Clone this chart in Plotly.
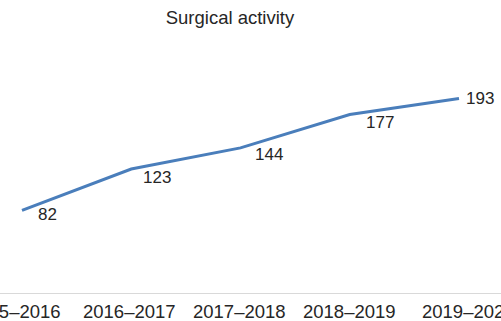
import plotly.graph_objects as go

categories = ["2015\u20132016", "2016\u20132017", "2017\u20132018", "2018\u20132019", "2019\u20132020"]
values = [82, 123, 144, 177, 193]

# label offsets (styling only)
label_xshift = [14, 10, 12, 14, 5]
label_yshift = [-4, -8, -7, -8, 0]
tick_xshift = [-8, -2, -1, 0, 9]

FONT = "Liberation Sans, Arial"
TXT = "#262626"

fig = go.Figure()
fig.add_trace(go.Scatter(
    x=list(range(len(categories))), y=values, mode="lines",
    line=dict(color="#4a7ebb", width=3), hoverinfo="skip", showlegend=False,
))

for i, v in enumerate(values):
    fig.add_annotation(
        x=i, y=v, text=str(v), showarrow=False, xanchor="left", yanchor="middle",
        xshift=label_xshift[i], yshift=label_yshift[i],
        font=dict(family=FONT, size=17, color=TXT),
    )

for i, c in enumerate(categories):
    fig.add_annotation(
        x=i, y=0, yref="paper", text=c, showarrow=False, xanchor="center", yanchor="middle",
        xshift=tick_xshift[i], yshift=-18,
        font=dict(family=FONT, size=18.5, color=TXT),
    )

fig.update_layout(
    width=501, height=321,
    margin=dict(l=0, r=0, t=41, b=28),
    paper_bgcolor="white", plot_bgcolor="white",
    title=dict(text="Surgical activity", x=0.459, xanchor="center", y=0.944, yanchor="middle",
               font=dict(family=FONT, size=18.5, color=TXT)),
    xaxis=dict(
        range=[-0.2014, 4.3844], showticklabels=False, showgrid=False, zeroline=False,
        showline=True, linecolor="#d9d9d9", linewidth=1, ticks="", automargin=False,
    ),
    yaxis=dict(range=[0, 250], visible=False, showgrid=False, zeroline=False),
)

fig.write_html("out.html")
